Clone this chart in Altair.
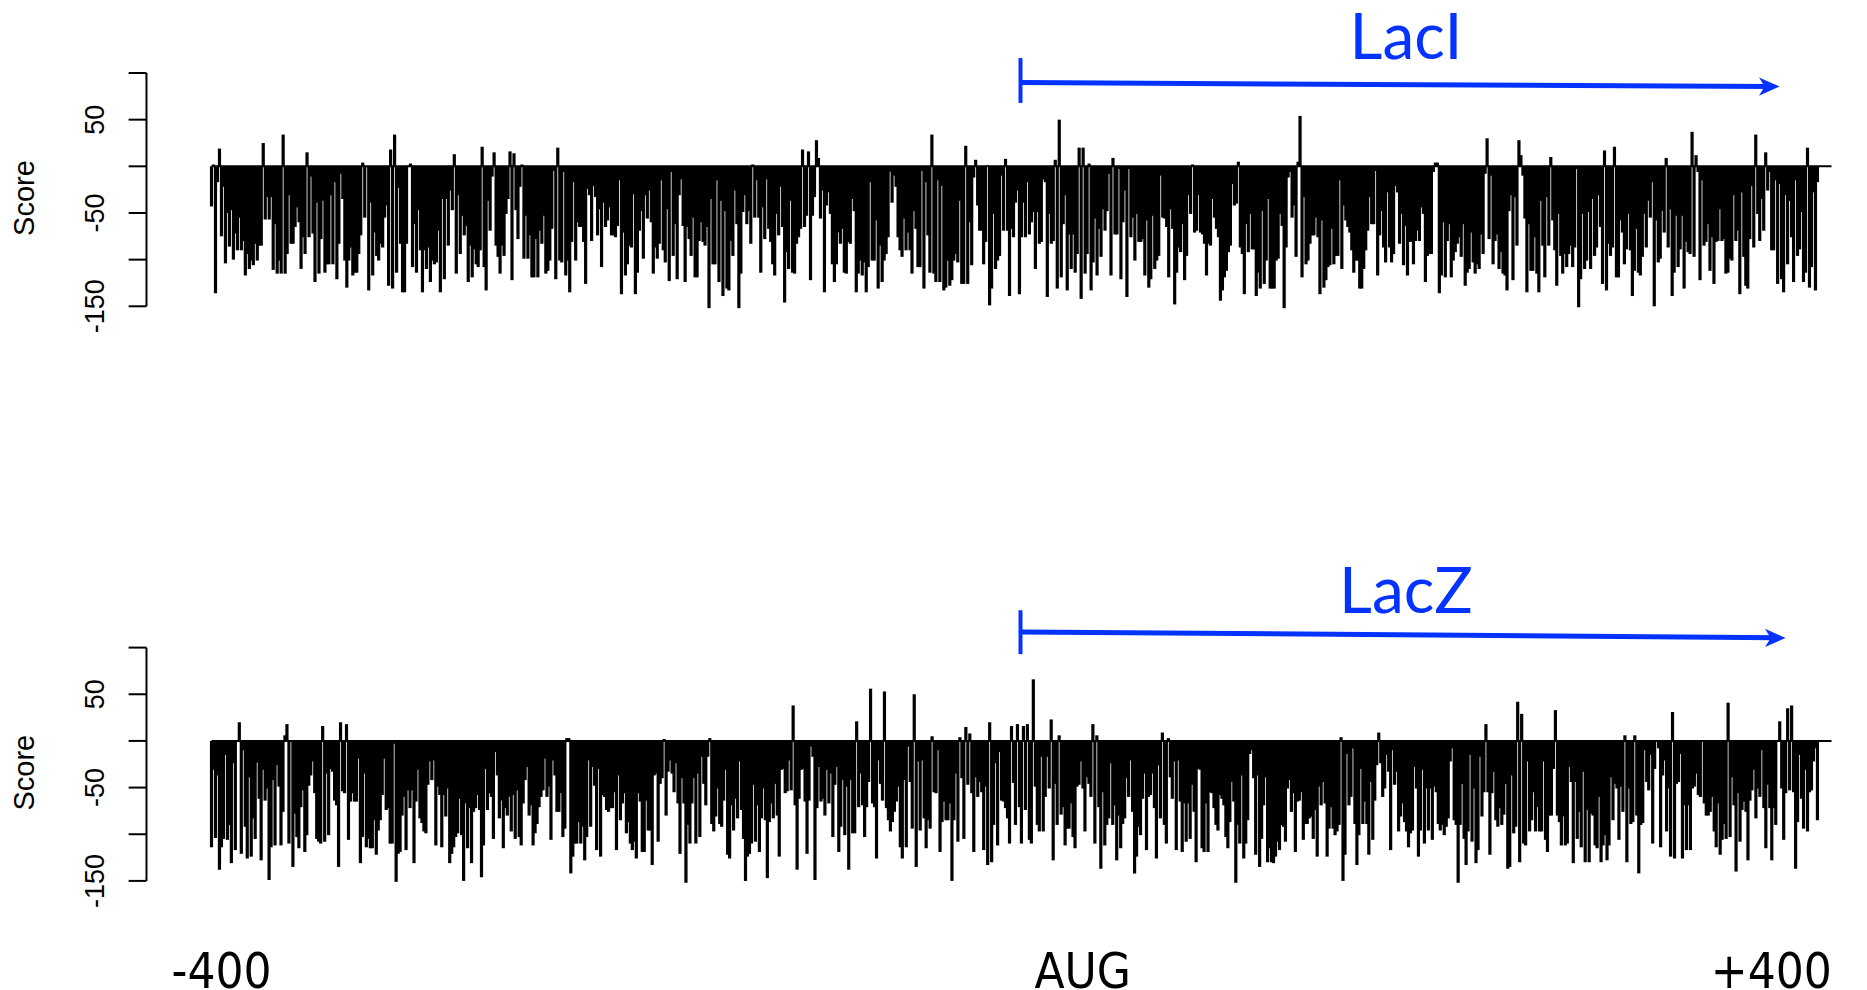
import altair as alt
import numpy as np
import pandas as pd

# ---------------- data (scores, left to right) ----------------
TOP_SEG1 = [-43, 2, -136, -17, 19, -75, -22, -104, -50, -86, -47, -100, -72, -90, -55, -90, -80, -117, -94, -110,
            -101, -106, -83, -101, -85, -85, 25, -57, -33, -57, -33, -111, -62, -115, -101, -115, 34, -115, -94, -31,
            -83, -83, -65, -44, -60, -110, -76, -94, 15, -76, -11, -72, -124, -39, -115, -78, -37, -114, -105, -105,
            -31, -105, -17, -121, -83, -8, -35, -101, -130, -101, -87, -117, -114, -114, -94, -74, 4, -55, -1, -133,
            -39, -117, -71, -96, -101, -83, -87, -55, -42, -128, 18, -131, 34, -114, -23, -83, -135, -135, -83, 1,
            3, -108, -62, -114, -47, -90, -135, -90, -110, -87, -124, -101, -105, -103, -69, -135, -35, -121, -35, -85,
            -26, -47, 13, -115, -31, -94, -53, -74, -64, -124, -85, -119, -89, -105, -108, -90, 21, -108, -133, -37,
            -69, -11, 15, -85, -97, -115, -85, -96, -51, -35, 16, -122, 14, -47, -78, -22, 2, -99, -53, -99,
            -74, -119, -119, -78, -119, -69, -83, -53, -115, -112, -101, -67, -5, -121, 20, -101, -103, -6, -117, -101,
            -135, -81, -17, -101, -60, -65, -65, -81, -126, -24, -31, -80, -21, -33, -74, -46, -108, -39, -65, -58,
            -44, -74]
TOP_SEG2 = [-74, -76, -64, -15, -137, -71, -117, -105, -85, -87, -30, -137, -114, -69, -48, -99, -31, -56, -26, -60,
            -115, -87, -99, -83, -15, -90, -103, -46, -123, -6, -96, -62, -121, -31, -14, -64, -124, -65, -78, -96,
            -55, -119, -119, -80, -60, -81, -85, -65, -152, -35, -105, -105, -15, -124, -37, -139, -48, -131, -133, -80,
            -96, -26, -62, -152, -115, -49, -31, -62, -48, -83, 2, -55, -15, -55, -114, -44, -78, -14, -67, -81,
            -105, -117, -51, -74, -22, -65, -146, -92, -110, -37, -114, -115, -83, -76, -67, 18, -65, -53, 16, -122,
            -53, -33, 28, 9, -56, -26, -135, -42, -28, -51, -105, -124, -105, -71, -83, -67, -114, -115, -81, -83,
            -35, -48, -135, -115, -101, -117, -103, -135, -108, -17, -101, -101, -58, -131, -85, -124, -101, -94, -76, -6,
            -39, -10, -22, -76, -90, -97, -56, -90, -71, -90, -115, -48, -67, -108, -108, -5, -131, -17, -74, -114,
            34, -115, -124, -15, -124, -21, -133, -130, -101, -128, -122, -101, -94, -103, -37, -126, -126, 22, -126, -60,
            -106, -12, 7, -42, -69, -69, -105, -81, 1, -149, -131, -51, -110, -101, -96, -10, -69, 8, -69, -139,
            -67, -76, -39, -26]
TOP_SEG3 = [-137, -76, -39, -76, -17, -73, -60, -49, -110, -49, -83, -81, -14, -17, -140, -51, -83, -80, 7, -131,
            50, -119, -62, -31, -133, -73, -110, -73, -114, -94, 20, -142, 20, -115, -94, 3, -133, -103, -56, -117,
            -67, -97, -46, -69, -48, -8, -117, 9, -73, -73, -3, -121, -60, -26, -140, -3, -76, -55, -101, -51,
            -81, -81, -78, -117, -58, -130, -121, -53, -110, -101, -96, -10, -55, -56, -65, -119, -46, -67, -148, -114,
            -87, -92, -62, -122, -96, -31, -51, 2, -71, -69, -31, -71, -73, -83, -117, -83, -85, -35, -55, -67,
            -76, -144, -133, -119, -112, -92, -85, -19, -42, -40, 5, -87, -94, -137, -62, -92, -51, -89, -89, -139,
            -114, -131, -48, -126, -101, -35, -131, -131, -131, -101, -99, -51, -64, -152, -87, -12, -6, -55, -42, -97,
            5, 54, -119, -33, -105, -101, -83, -74, -74, -55, -76, -137, -58, -130, -122, -108, -106, -67, -105, -96,
            -96, -15, -110, -42, -58, -65, -71, -90, -114, -101, -101, -131, -131, -110, -90, -69, -33, -62, -62, -5,
            -117, -74, -48, -87, -103, -28, -87, -103, -94, -21, -28, -83, -51, -106, -64, -117, -81, -81, -105, -80,
            -69, -80, -44, -51, -124, -96, -94, -94, -6, 4]
TOP_SEG4 = [4, -136, -117, -60, -119, -80, -62, -119, -101, -92, -83, -76, -97, -62, -128, -114, -110, -71, -103, -115,
            -105, -110, -73, -94, -8, 30, -78, -10, -105, -80, -73, -110, -92, -115, -117, -133, -48, -31, -122, -33,
            -85, 28, 12, -10, -56, -135, -62, -112, -112, -76, -115, -135, -37, -85, -119, -33, -85, 10, -58, -90,
            -128, -51, -96, -115, -94, -108, -94, -85, -108, -87, -3, -151, -121, -51, -110, -101, -49, -110, -35, -96,
            -87, -31, -65, -126, 17, -133, -83, -96, -87, 21, -119, -119, -58, -71, -105, -89, -51, -90, -139, -112,
            -67, -114, -117, -97, -51, -87, -37, -55, -17, -150, -58, -103, -99, -48, -71, 9, -87, -46, -139, -114,
            -53, -108, -89, -53, -131, -81, -92, -94, 37, -97, 12, -6, -122, -15, -85, -81, -62, -112, -76, -126,
            -81, -80, -46, -80, -78, -115, -114, -99, -101, -31, -80, -69, -137, -28, -97, -128, -131, -78, -21, -87,
            34, -51, -80, -35, -69, 15, -26, -6, -90, -90, -15, -126, -19, -121, -135, -31, -105, -37, -76, -124,
            -15, -96, -89, -49, -124, -114, 20, -130, -108, -28, -133, -17]

BOT_SEG1 = [-114, -31, -104, -37, -138, -114, -105, -15, -106, -90, -131, -24, -117, -1, 20, -121, -10, -92, -126, -39,
            -124, -83, -105, -23, -62, -128, -31, -64, -51, -149, -114, -42, -112, -26, -49, -112, -76, 6, 18, -110,
            1, -135, -78, -103, -115, -71, -53, -119, -101, -48, -37, -22, -56, -105, -108, -110, 16, -108, -35, -101,
            -30, -33, -64, -69, -135, 20, -54, -56, 18, -106, -65, -56, -65, -65, -19, -131, -103, -35, -114, -105,
            -115, -115, -85, -122, -96, -85, -58, -19, -74, -72, -110, -110, -3, -151, -121, -119, -80, -60, -117, -53,
            -72, -53, -131, -65, -31, -83, -88, -97, -99, -47, -22, -42, -21, -112, -49, -58, -114, -58, -81, -51,
            -131, -121, -114, -103, -99, -62, -101, -150, -67, -115, -72, -131, -76, -72, -58, -74, -146, -112, -30, -74,
            -56, -60, -105, -12, -37, -83, -64, -115, -72, -80, -60, -97, -58, -105, -53, -103, -112, -67, -42, -28,
            -80, -69, -112, -99, -89, -71, -60, -53, -19, -60, -49, -106, -21, -37, -76, -76, -56, -103, -94, 3,
            3, -142, -124, -110, -110, -87, -110, -92, -128, -103, -21, -92, -28, -48, -117, -30, -124, -58, -60, -74,
            -76, -72]
BOT_SEG2 = [-72, -55, -117, -37, -85, -67, -56, -99, -87, -110, -117, -108, -126, -56, -65, -119, -119, -64, -96, -96,
            -133, -37, -35, -108, -46, -40, 2, -80, -33, -21, -35, -55, -24, -67, -121, -40, -67, -152, -90, -110,
            -67, -40, -110, -35, -103, -17, -46, -69, -17, 3, -89, -97, -81, -51, -89, -92, -64, -31, -122, -126,
            -69, -96, -62, -83, -22, -74, -105, -150, -124, -121, -110, -47, -108, -69, -119, -83, -51, -85, -147, -87,
            -67, -83, -46, -80, -124, -31, -30, -56, -54, -21, -53, 38, -69, -138, -62, -31, -30, -65, -121, -64,
            -6, -17, -149, -72, -28, -65, -62, -80, -31, -67, -35, -103, -47, -28, -119, -92, -42, -101, -49, -138,
            -42, -99, -99, 21, -71, -35, -69, -103, -71, -44, 56, -67, -71, -126, -21, -46, -64, 53, -72, -85,
            -97, -87, -76, -65, -49, -114, -126, -42, -114, -6, -44, -94, 50, -135, -22, -96, -21, -83, -115, -85,
            -94, 5, -55, -56, -10, -119, -87, -65, -85, -85, -67, -150, -85, -35, -108, 4, -40, -105, 15, -47,
            8, -56, -119, -39, -60, -44, -55, -117, -49, -133, 20, -130, -90, -24, -112, -12, -64, -65, -72, -83,
            -110, 16, -45, -90, 18, -71]
BOT_SEG3 = [-110, 16, -74, 18, -106, -110, 66, -49, -90, -97, -17, -97, -60, -17, -51, 23, -128, -46, -90, 6,
            -79, -71, -112, -94, -94, -67, -103, -115, -49, -47, -22, -51, -97, -39, -46, -60, 18, -110, 6, -71,
            -137, -55, -112, -90, -83, -24, -90, -69, -128, -80, -115, -89, -83, -40, -60, -21, -76, -142, -124, -92,
            -101, -62, -35, -117, -60, -58, -35, -72, -126, -26, -83, 9, -90, -110, 3, -39, -62, -22, -117, -21,
            -65, -119, -67, -108, -67, -105, -47, -76, -130, -30, -31, -115, -119, -67, -119, -55, -56, -72, -90, -96,
            -58, -62, -69, -103, -115, -87, -44, -65, -152, -90, -110, -37, -126, -110, -85, -14, -10, -40, -122, -37,
            -135, -105, -69, -39, -130, -115, -130, -131, -124, -108, -117, -90, -92, -108, -51, -42, -76, -56, -119, -65,
            -64, -55, -106, -89, -89, -83, -81, -105, -74, -124, -49, -69, -44, -67, -124, -94, -71, -94, -101, -97,
            -90, 4, -150, -122, -14, -69, -60, -8, -89, -133, -101, -30, -89, -65, -89, -122, -44, -106, -64, -26,
            9, -24, -60, -51, -15, -33, -117, -10, -47, -33, -97, -81, -67, -87, -97, -114, -99, -96, -28, -51,
            -124, -96, -31, -110, -51, -96, -51, -106, -49, -55]
BOT_SEG4 = [-89, -96, -90, -101, -92, -83, -22, -8, -85, -90, -152, -90, -46, -105, -133, -97, -15, -108, -51, -131,
            -117, -17, -81, -55, 18, -55, -122, -56, -33, -85, -92, -72, -90, -79, -46, -137, -135, -37, -99, -92,
            42, -130, 29, -110, -112, -22, -97, -85, -55, -97, -71, -97, -97, -22, -106, -119, -80, -80, -30, 33,
            -80, -87, -112, -81, -112, -110, -28, -44, -131, -44, -105, -76, -114, -33, -130, -74, -130, -78, -80, -112,
            -115, -60, -130, -112, -101, -128, -112, -39, -85, -46, -51, -106, -49, -76, 6, -130, -51, -89, -87, 6,
            -80, -142, -90, -88, -10, -44, -53, -15, -110, -30, 1, -8, -114, -37, -21, -97, -51, -124, 31, -126,
            -46, -44, -14, -126, -69, -117, -69, -117, -51, -49, -35, -58, -60, -1, -67, -80, -80, -76, -60, -97,
            -114, -67, -122, -106, -89, -105, 41, -103, -39, -69, -140, -56, -108, -74, -65, -76, -128, -64, -53, -31,
            -83, -51, -60, -10, -72, -115, -47, -72, -128, -72, -90, 1, 21, -51, -106, -56, 35, -53, 38, -55,
            -137, -87, -15, -62, -94, -31, -97, -55, -53, -22, -8, -85]

POS_RANGE = [-400, 400]
ZERO_LINE_X = [-400, 407]
Y_TICKS = [-150, -100, -50, 0, 50, 100]
Y_LABELLED = [50, -50, -150]
Y_TITLE = "Score"
GENE_LABELS = ["LacI", "LacZ"]
X_LABELS = ["-400", "AUG", "+400"]

# ---------------- placement (in data units of the x / y scales) ----------------
X_LABEL_POS = [-395, 34, 377]
X_LABEL_Y = -265
AXIS_X = -432.4        # y-axis line, left of the bars (as in base R)
TICK_X = -441.3        # outer end of ticks
YLAB_X = -457.3        # centre of rotated tick labels
YTITLE_X = -492.7      # centre of rotated axis title
YTITLE_Y = -34
TOP_ARROW = {"x0": 3, "x1": 377, "y0": 89.7, "y1": 85.6, "blo": 68, "bhi": 116, "tip": 376, "ty": 85.4, "lx": 195, "ly": 115}
BOT_ARROW = {"x0": 3, "x1": 380, "y0": 116.8, "y1": 110.6, "blo": 93, "bhi": 140, "tip": 379, "ty": 110.4, "lx": 195, "ly": 137.6}

BLUE = "#0433FF"
XS = alt.Scale(domain=[-402, 408], nice=False, zero=False)
YS = alt.Scale(domain=[-150, 100], nice=False, zero=False)
W = 1626
H = 233.3


def X(f):
    return alt.X(f, scale=XS, axis=None)


def Y(f):
    return alt.Y(f, scale=YS, axis=None)


def panel(values, label, arrow, with_xlabels):
    n = len(values)
    df = pd.DataFrame({"pos": np.linspace(POS_RANGE[0], POS_RANGE[1], n), "score": values, "base": 0})
    bars = alt.Chart(df).mark_rule(color="black", strokeWidth=3.2).encode(
        x=X("pos:Q"), y=Y("score:Q"), y2="base")
    zdf = pd.DataFrame({"za": [ZERO_LINE_X[0]], "zb": [ZERO_LINE_X[1]], "zy": [0]})
    zero = alt.Chart(zdf).mark_rule(color="black", strokeWidth=2).encode(
        x=X("za:Q"), x2="zb", y=Y("zy:Q"))

    # y axis drawn R-style, detached to the left of the data
    ddf = pd.DataFrame({"ax": [AXIS_X], "lo": [min(Y_TICKS)], "hi": [max(Y_TICKS)]})
    dom = alt.Chart(ddf).mark_rule(color="black", strokeWidth=2).encode(
        x=X("ax:Q"), y=Y("lo:Q"), y2="hi")
    tdf = pd.DataFrame({"t0": TICK_X, "t1": AXIS_X, "v": Y_TICKS})
    ticks = alt.Chart(tdf).mark_rule(color="black", strokeWidth=2).encode(
        x=X("t0:Q"), x2="t1", y=Y("v:Q"))
    ldf_ = pd.DataFrame({"lx": YLAB_X, "v": Y_LABELLED, "t": [str(v) for v in Y_LABELLED]})
    ylabs = alt.Chart(ldf_).mark_text(
        font="Liberation Sans", fontSize=27, color="black", angle=270, align="center", baseline="middle"
    ).encode(x=X("lx:Q"), y=Y("v:Q"), text="t:N")
    ttdf = pd.DataFrame({"tx": [YTITLE_X], "ty": [YTITLE_Y], "t": [Y_TITLE]})
    ytitle = alt.Chart(ttdf).mark_text(
        font="Liberation Sans", fontSize=29, color="black", angle=270, align="center", baseline="middle"
    ).encode(x=X("tx:Q"), y=Y("ty:Q"), text="t:N")

    adf = pd.DataFrame([arrow])
    line = alt.Chart(adf).mark_rule(color=BLUE, strokeWidth=5).encode(
        x=X("x0:Q"), x2="x1", y=Y("y0:Q"), y2="y1")
    tick = alt.Chart(adf).mark_rule(color=BLUE, strokeWidth=4).encode(
        x=X("x0:Q"), y=Y("blo:Q"), y2="bhi")
    head = alt.Chart(adf).mark_point(
        shape="M 1 0 L -1 -0.9 L -0.45 0 L -1 0.9 Z", filled=True, size=420,
        color=BLUE, opacity=1, strokeWidth=0,
    ).encode(x=X("tip:Q"), y=Y("ty:Q"))
    gdf = pd.DataFrame({"lx": [arrow["lx"]], "ly": [arrow["ly"]], "t": [label]})
    txt = alt.Chart(gdf).mark_text(
        font="Lato", fontSize=64, color=BLUE, align="center", baseline="alphabetic"
    ).encode(x=X("lx:Q"), y=Y("ly:Q"), text="t:N")
    layers = [bars, zero, dom, ticks, ylabs, ytitle, line, tick, head, txt]
    if with_xlabels:
        xdf = pd.DataFrame({"x": X_LABEL_POS, "y": [X_LABEL_Y] * 3, "t": X_LABELS})
        xl = alt.Chart(xdf).mark_text(
            font="DejaVu Sans Condensed, Lato", fontSize=49, color="black",
            align="center", baseline="alphabetic"
        ).encode(x=X("x:Q"), y=Y("y:Q"), text="t:N")
        layers.append(xl)
    return alt.layer(*layers).properties(width=W, height=H)


top = panel(TOP_SEG1 + TOP_SEG2 + TOP_SEG3 + TOP_SEG4, GENE_LABELS[0], TOP_ARROW, False)
bottom = panel(BOT_SEG1 + BOT_SEG2 + BOT_SEG3 + BOT_SEG4, GENE_LABELS[1], BOT_ARROW, True)

chart = alt.vconcat(top, bottom, spacing=226.6).properties(
    padding={"left": 2.5, "top": 0, "right": 5, "bottom": 0}, background="white"
).configure_view(stroke=None)

chart.save("out.html", embed_options={"renderer": "svg", "actions": False})
